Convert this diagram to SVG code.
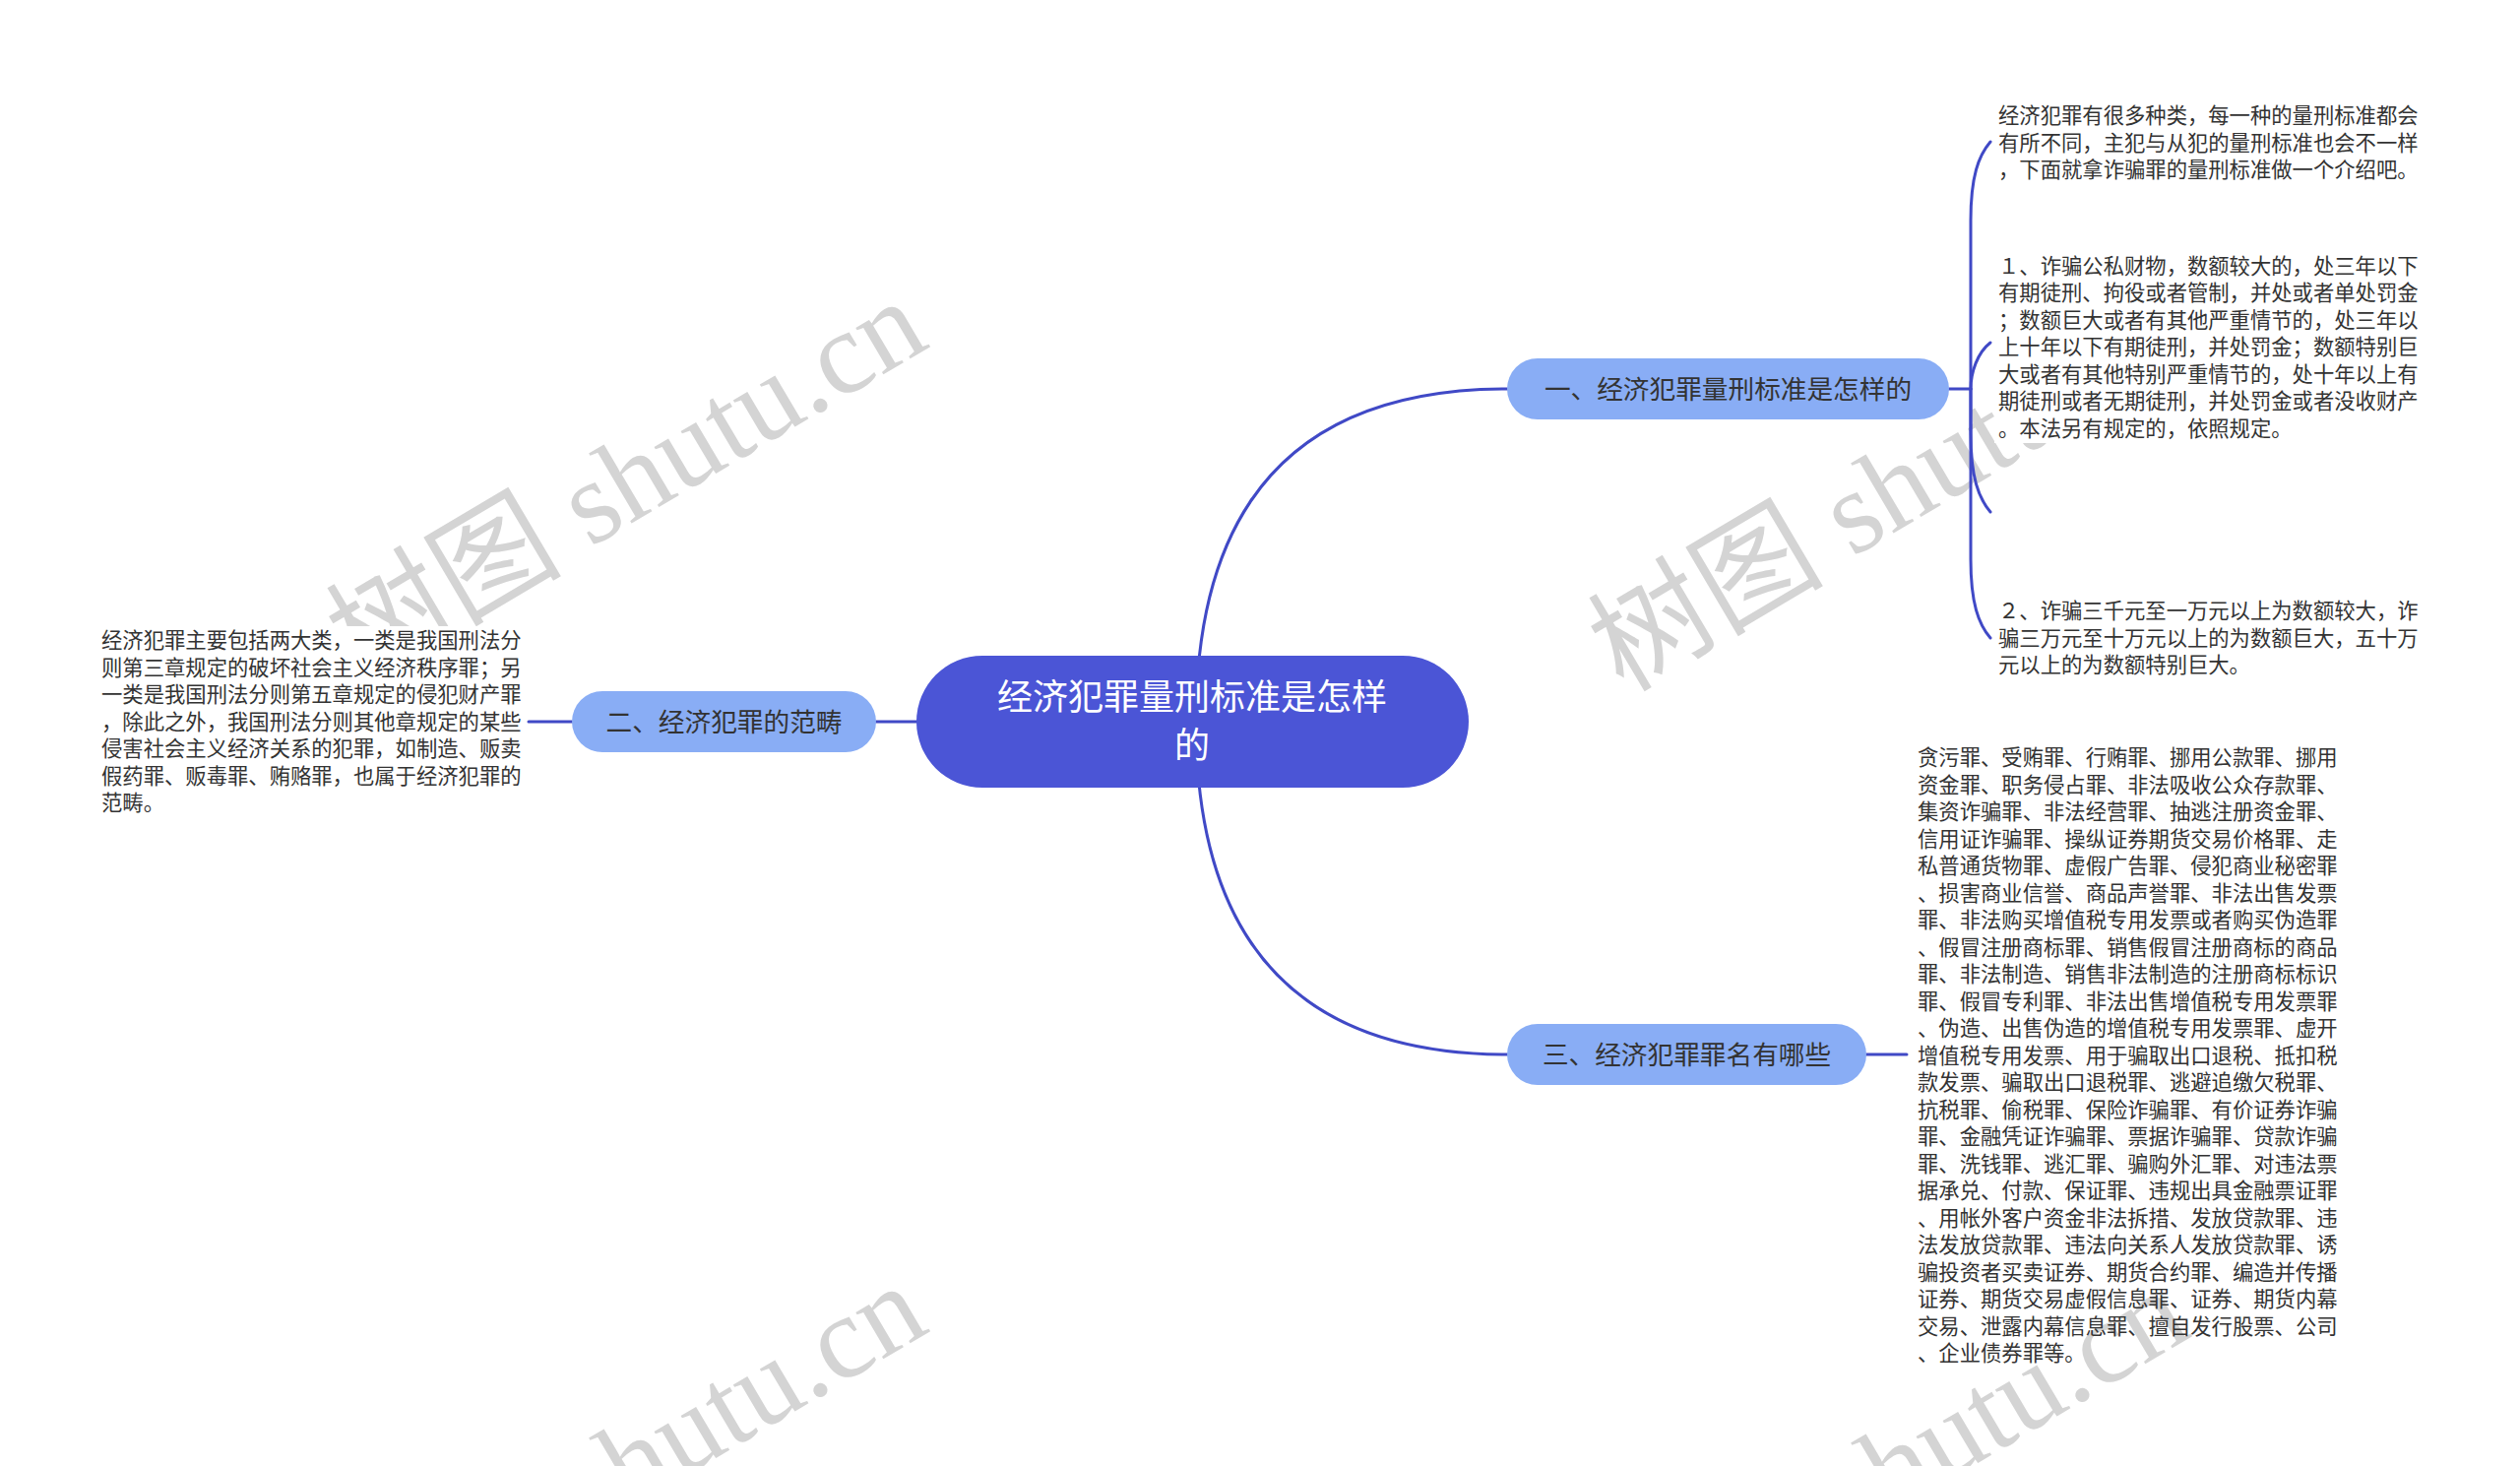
<svg xmlns="http://www.w3.org/2000/svg" width="2560" height="1489" viewBox="0 0 2560 1489">
<style>
.wm{font-family:"Liberation Serif","Noto Sans CJK SC",serif;font-size:120px;fill:#d4d4d4}
.conn{fill:none;stroke:#4049c6;stroke-width:3;stroke-linecap:round}
.body{font-family:"Noto Sans CJK SC","Noto Sans",sans-serif;font-size:21.33px;fill:#333}
.branch{fill:#89adf5}
.btext{font-family:"Noto Sans CJK SC","Noto Sans",sans-serif;font-size:26.67px;fill:#333;text-anchor:middle}
.root{fill:#4b55d6}
.rtext{font-family:"Noto Sans CJK SC","Noto Sans",sans-serif;font-size:36px;fill:#fff;text-anchor:middle}
.bg{fill:#fff}
</style>
<rect width="2560" height="1489" fill="#fff"/>
<g id="watermark">
<text class="wm" transform="translate(367,694) rotate(-30.6)">树图 shutu.cn</text>
<text class="wm" transform="translate(1649,704) rotate(-30.6)">树图 shutu.cn</text>
<text class="wm" transform="translate(367,1694) rotate(-30.6)">树图 shutu.cn</text>
<text class="wm" transform="translate(1649,1699) rotate(-30.6)">树图 shutu.cn</text>
</g>
<g id="connectors">
<path class="conn" d="M1215,733 Q1215,395 1531,395"/>
<path class="conn" d="M1215,733 Q1215,1071 1531,1071"/>
<path class="conn" d="M931,733 L890,733"/>
<path class="conn" d="M581,733 L537,733"/>
<path class="conn" d="M1896,1071 L1937,1071"/>
<path class="conn" d="M1980,395 L2002,395"/>
<path class="conn" d="M2002,395 L2002,224 C2002,179 2010,158 2022,144"/>
<path class="conn" d="M2002,395 C2002,378 2009,358 2022,348"/>
<path class="conn" d="M2002,395 L2002,440 C2002,485 2010,506 2022,520"/>
<path class="conn" d="M2002,395 L2002,568 C2002,613 2010,634 2022,648"/>
</g>
<g id="root">
<rect class="root" x="931" y="666" width="561" height="134" rx="67"/>
<text class="rtext"><tspan x="1211" y="721">经济犯罪量刑标准是怎样</tspan><tspan x="1211" y="770">的</tspan></text>
</g>
<g id="branch1">
<rect class="branch" x="1531" y="364" width="449" height="62" rx="31"/>
<text class="btext" x="1755.5" y="405">一、经济犯罪量刑标准是怎样的</text>
</g>
<g id="branch2">
<rect class="branch" x="581" y="702" width="309" height="62" rx="31"/>
<text class="btext" x="735.5" y="743">二、经济犯罪的范畴</text>
</g>
<g id="branch3">
<rect class="branch" x="1531" y="1040" width="365" height="62" rx="31"/>
<text class="btext" x="1713.5" y="1081">三、经济犯罪罪名有哪些</text>
</g>
<g id="leaf1-1">
<rect class="bg" x="2026" y="102" width="440" height="86"/>
<text class="body"><tspan x="2030" y="125">经济犯罪有很多种类，每一种的量刑标准都会</tspan><tspan x="2030" y="152.5">有所不同，主犯与从犯的量刑标准也会不一样</tspan><tspan x="2030" y="180">，下面就拿诈骗罪的量刑标准做一个介绍吧。</tspan></text>
</g>
<g id="leaf1-2">
<rect class="bg" x="2026" y="254" width="440" height="196"/>
<text class="body"><tspan x="2030" y="277.5">１、诈骗公私财物，数额较大的，处三年以下</tspan><tspan x="2030" y="305">有期徒刑、拘役或者管制，并处或者单处罚金</tspan><tspan x="2030" y="332.5">；数额巨大或者有其他严重情节的，处三年以</tspan><tspan x="2030" y="360">上十年以下有期徒刑，并处罚金；数额特别巨</tspan><tspan x="2030" y="387.5">大或者有其他特别严重情节的，处十年以上有</tspan><tspan x="2030" y="415">期徒刑或者无期徒刑，并处罚金或者没收财产</tspan><tspan x="2030" y="442.5">。本法另有规定的，依照规定。</tspan></text>
</g>
<g id="leaf1-3">
<rect class="bg" x="2026" y="605" width="440" height="86"/>
<text class="body"><tspan x="2030" y="628">２、诈骗三千元至一万元以上为数额较大，诈</tspan><tspan x="2030" y="655.5">骗三万元至十万元以上的为数额巨大，五十万</tspan><tspan x="2030" y="683">元以上的为数额特别巨大。</tspan></text>
</g>
<g id="leaf2-1">
<rect class="bg" x="99" y="636" width="434" height="195"/>
<text class="body"><tspan x="103" y="658">经济犯罪主要包括两大类，一类是我国刑法分</tspan><tspan x="103" y="685.5">则第三章规定的破坏社会主义经济秩序罪；另</tspan><tspan x="103" y="713">一类是我国刑法分则第五章规定的侵犯财产罪</tspan><tspan x="103" y="740.5">，除此之外，我国刑法分则其他章规定的某些</tspan><tspan x="103" y="768">侵害社会主义经济关系的犯罪，如制造、贩卖</tspan><tspan x="103" y="795.5">假药罪、贩毒罪、贿赂罪，也属于经济犯罪的</tspan><tspan x="103" y="823">范畴。</tspan></text>
</g>
<g id="leaf3-1">
<text class="body"><tspan x="1948" y="777">贪污罪、受贿罪、行贿罪、挪用公款罪、挪用</tspan><tspan x="1948" y="804.5">资金罪、职务侵占罪、非法吸收公众存款罪、</tspan><tspan x="1948" y="832">集资诈骗罪、非法经营罪、抽逃注册资金罪、</tspan><tspan x="1948" y="859.5">信用证诈骗罪、操纵证券期货交易价格罪、走</tspan><tspan x="1948" y="887">私普通货物罪、虚假广告罪、侵犯商业秘密罪</tspan><tspan x="1948" y="914.5">、损害商业信誉、商品声誉罪、非法出售发票</tspan><tspan x="1948" y="942">罪、非法购买增值税专用发票或者购买伪造罪</tspan><tspan x="1948" y="969.5">、假冒注册商标罪、销售假冒注册商标的商品</tspan><tspan x="1948" y="997">罪、非法制造、销售非法制造的注册商标标识</tspan><tspan x="1948" y="1024.5">罪、假冒专利罪、非法出售增值税专用发票罪</tspan><tspan x="1948" y="1052">、伪造、出售伪造的增值税专用发票罪、虚开</tspan><tspan x="1948" y="1079.5">增值税专用发票、用于骗取出口退税、抵扣税</tspan><tspan x="1948" y="1107">款发票、骗取出口退税罪、逃避追缴欠税罪、</tspan><tspan x="1948" y="1134.5">抗税罪、偷税罪、保险诈骗罪、有价证券诈骗</tspan><tspan x="1948" y="1162">罪、金融凭证诈骗罪、票据诈骗罪、贷款诈骗</tspan><tspan x="1948" y="1189.5">罪、洗钱罪、逃汇罪、骗购外汇罪、对违法票</tspan><tspan x="1948" y="1217">据承兑、付款、保证罪、违规出具金融票证罪</tspan><tspan x="1948" y="1244.5">、用帐外客户资金非法拆措、发放贷款罪、违</tspan><tspan x="1948" y="1272">法发放贷款罪、违法向关系人发放贷款罪、诱</tspan><tspan x="1948" y="1299.5">骗投资者买卖证券、期货合约罪、编造并传播</tspan><tspan x="1948" y="1327">证券、期货交易虚假信息罪、证券、期货内幕</tspan><tspan x="1948" y="1354.5">交易、泄露内幕信息罪、擅自发行股票、公司</tspan><tspan x="1948" y="1382">、企业债券罪等。</tspan></text>
</g>
</svg>
